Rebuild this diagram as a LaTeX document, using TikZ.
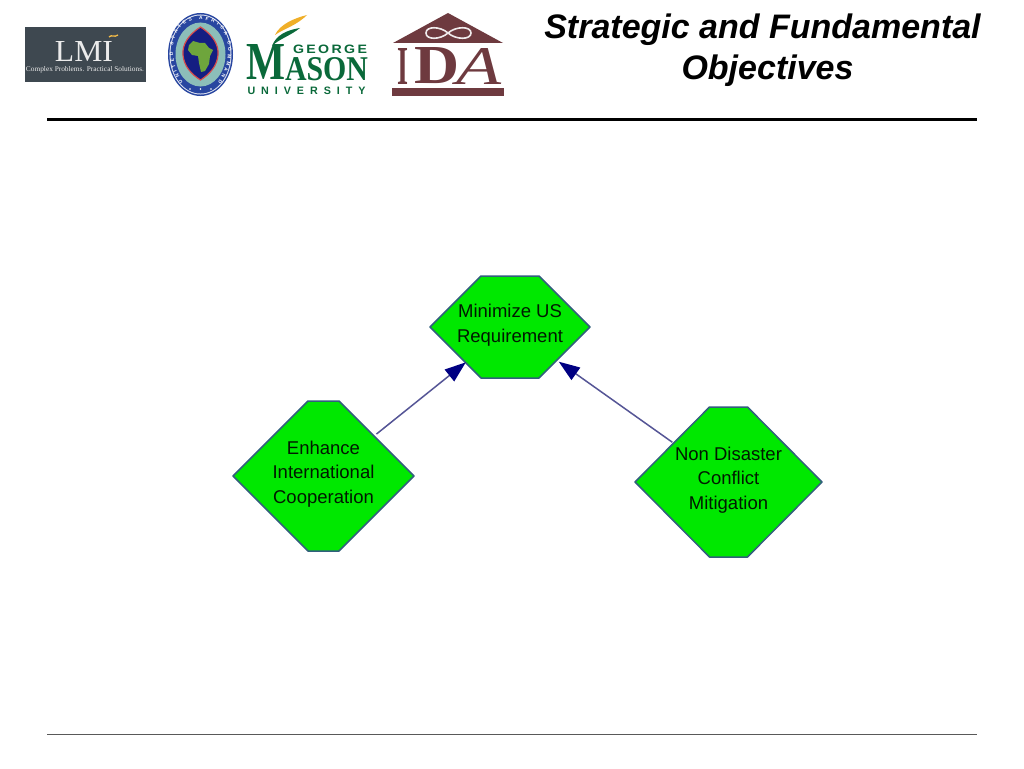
\documentclass[tikz,border=0pt]{standalone}
\usepackage{fontspec}
\usepackage{graphicx}
\setmainfont{Liberation Sans}
\newfontfamily\serifx{Liberation Serif}
\usetikzlibrary{calc,arrows.meta,decorations.text}
\definecolor{hexfill}{RGB}{0,232,0}
\definecolor{hexedge}{RGB}{50,95,125}
\definecolor{linkline}{RGB}{85,85,150}
\definecolor{linkhead}{RGB}{0,0,130}
\definecolor{lmibg}{RGB}{62,72,80}
\definecolor{gmugreen}{RGB}{10,105,58}
\definecolor{gmugold}{RGB}{240,175,40}
\definecolor{idared}{RGB}{110,58,63}
\definecolor{sealblue}{RGB}{40,70,160}
\definecolor{sealband}{RGB}{140,190,185}
\definecolor{sealdark}{RGB}{20,30,130}
\definecolor{sealred}{RGB}{215,75,75}
\definecolor{sealland}{RGB}{110,165,60}
\newcommand\hextext[1]{\raisebox{2pt}[\height][\depth]{\begin{tabular}{@{}c@{}}#1\end{tabular}}}
\tikzset{
  hexnode/.style n args={3}{shape=rectangle,inner sep=0pt,minimum width=#1,minimum height=#2,
    text=black!90!green,font=\fontsize{18.5}{24.5}\selectfont,
    path picture={
      \draw[fill=hexfill,draw=hexedge,line width=1.5pt,line join=round]
        ([xshift=2pt]path picture bounding box.west)
        -- ([xshift=-#3,yshift=-2pt]path picture bounding box.north)
        -- ([xshift=#3,yshift=-2pt]path picture bounding box.north)
        -- ([xshift=-2pt]path picture bounding box.east)
        -- ([xshift=#3,yshift=2pt]path picture bounding box.south)
        -- ([xshift=-#3,yshift=2pt]path picture bounding box.south)
        -- cycle;
    }},
  linkarrow/.style={draw=linkline,line width=1.5pt,
    -{Triangle[length=21pt,width=15pt,color=linkhead]}},
  titletext/.style={font=\fontsize{34}{41}\selectfont\bfseries\itshape,align=center,text=black,inner sep=0pt},
  logotext/.style={inner sep=0pt,outer sep=0pt},
  rulethick/.style={line width=3pt,draw=black},
  rulethin/.style={line width=1pt,draw=black!65}
}
\begin{document}
\begin{tikzpicture}[x=1pt,y=-1pt]
\useasboundingbox (0,0) rectangle (1024,768);
\fill[white] (0,0) rectangle (1024,768);
% title
\node[titletext] (title) at (762.5,50) {Strategic and Fundamental\\\hspace*{10pt}Objectives};
% rules
\coordinate (rt1) at (47,119); \coordinate (rt2) at (977,119);
\coordinate (rb1) at (47,734); \coordinate (rb2) at (977,734);
\draw[rulethick] (rt1) -- (rt2);
\draw[rulethin] (rb1) -- (rb2);
% LMI logo
\fill[lmibg] (25,27) rectangle (146,82);
\node[logotext,text=white!92!black] (lmi) at (84,51) {\resizebox{58pt}{20pt}{\serifx LMI}};
\node[logotext,text=white!92!black] (lmisub) at (85,70) {\resizebox{118pt}{5pt}{\serifx\scshape Complex Problems. Practical Solutions.}};
\draw[gmugold!85!white,line width=1.3pt] (109,37) .. controls (112,34) and (114,38) .. (118,35);
% seal
\fill[sealblue] (200.5,54.5) ellipse [x radius=32.5,y radius=41.5];
\fill[white!85!sealblue] (200.5,54.5) ellipse [x radius=31,y radius=40];
\fill[sealblue] (200.5,54.5) ellipse [x radius=30,y radius=39];
\fill[sealband] (200.5,54.5) ellipse [x radius=25,y radius=32];
\draw[sealred,fill=sealdark,line width=1.2pt] (200.5,27) .. controls (213,35) and (219,45) .. (218,55) .. controls (217,66) and (210,74) .. (200.5,80) .. controls (191,74) and (184,66) .. (183,55) .. controls (182,45) and (188,35) .. (200.5,27) -- cycle;
\fill[sealland] (193,41) -- (200,43) -- (205,43) -- (209,48) -- (213,50) -- (210,56) -- (209,64) -- (205,71) -- (201,72) -- (199,63) -- (198,56) -- (192,55) -- (188,50) -- (189,45) -- cycle;
\path[postaction={decorate,decoration={text along path,
   text={|\fontsize{4.8}{5.5}\selectfont\bfseries\color{white}|UNITED STATES AFRICA COMMAND},text align=fit to path}}]
   (183,82) .. controls (167,60) and (168,20) .. (200.5,20) .. controls (233,20) and (234,60) .. (218,82);
\foreach \sx in {190,200.5,211}{\fill[white] (\sx,89) circle [radius=0.9];}
% GMU logo
\fill[gmugold] (307,15) .. controls (295,18) and (280,24) .. (275,35) .. controls (283,29) and (296,26) .. (307,15) -- cycle;
\fill[gmugreen] (300,28) .. controls (287,30) and (276,35) .. (272,46) .. controls (279,39) and (290,36) .. (300,28) -- cycle;
\node[logotext,text=gmugreen] (gmum) at (266,62) {\resizebox{39pt}{35pt}{\serifx\bfseries M}};
\node[logotext,text=gmugreen] (gmuason) at (326.5,69) {\resizebox{83pt}{23pt}{\serifx\bfseries ASON}};
\node[logotext,text=gmugreen] (gmugeorge) at (330,49) {\resizebox{74pt}{8.5pt}{\bfseries G\,E\,O\,R\,G\,E}};
\node[logotext,text=gmugreen] (gmuuni) at (306.5,90.5) {\resizebox{118pt}{7.5pt}{\bfseries U\;\;N\;\;I\;\;V\;\;E\;\;R\;\;S\;\;I\;\;T\;\;Y}};
% IDA logo
\fill[idared] (448,13) -- (503,43) -- (393,43) -- cycle;
\draw[white!90!idared,line width=1.6pt] (448,33) .. controls (440,26) and (426,26) .. (426,33) .. controls (426,40) and (440,40) .. (448,33) .. controls (456,26) and (471,26) .. (471,33) .. controls (471,40) and (456,40) .. (448,33) -- cycle;
\node[logotext,text=idared] (idai) at (402.5,66) {\resizebox{11pt}{36pt}{\serifx\bfseries I}};
\node[logotext,text=idared] (idad) at (437.5,66) {\resizebox{45pt}{36pt}{\serifx\bfseries D}};
\node[logotext,text=idared] (idaa) at (479.5,66) {\resizebox{45pt}{36pt}{\serifx\itshape A}};
\fill[idared] (392,88) rectangle (504,96);
% diagram
\node[hexnode={164pt}{106pt}{29pt}] (min) at (510,327) {\hextext{Minimize US\\Requirement}};
\node[hexnode={185pt}{154pt}{15.5pt}] (enh) at (323.5,476) {\hextext{Enhance\\International\\Cooperation}};
\node[hexnode={191pt}{154pt}{19pt}] (non) at (728.5,482) {\hextext{Non Disaster\\Conflict\\Mitigation}};
\draw[linkarrow,shorten <=-51pt,shorten >=-28.5pt] (enh) -- (min);
\draw[linkarrow,shorten <=-48.5pt,shorten >=-32pt] (non) -- (min);
\end{tikzpicture}
\end{document}
